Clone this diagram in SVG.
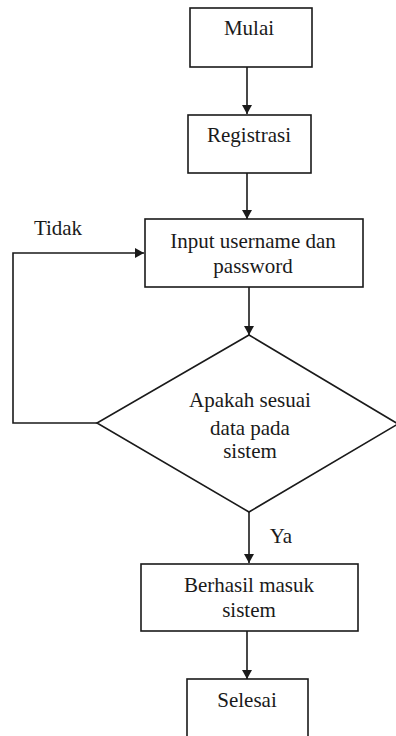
<svg xmlns="http://www.w3.org/2000/svg" width="396" height="736" viewBox="0 0 396 736">
<style>
.box{fill:#fff;stroke:#1a1a1a;stroke-width:1.6}
.ln{fill:none;stroke:#1a1a1a;stroke-width:1.6}
text{font-family:"Liberation Serif","Times New Roman",serif;font-size:21px;fill:#1a1a1a;text-anchor:middle}
</style>
<defs>
<marker id="ah" markerWidth="9" markerHeight="10" refX="9" refY="5" orient="auto" markerUnits="userSpaceOnUse">
<path d="M0,0 L9,5 L0,10 Z" fill="#1a1a1a"/>
</marker>
</defs>
<rect width="396" height="736" fill="#fff"/>
<g id="connectors">
<line class="ln" x1="247" y1="67" x2="247" y2="114" marker-end="url(#ah)"/>
<line class="ln" x1="247" y1="173" x2="247" y2="219" marker-end="url(#ah)"/>
<line class="ln" x1="249" y1="287" x2="249" y2="335" marker-end="url(#ah)"/>
<polyline class="ln" points="97,423 13,423 13,253 144,253" marker-end="url(#ah)"/>
<line class="ln" x1="249" y1="512" x2="249" y2="563" marker-end="url(#ah)"/>
<line class="ln" x1="247" y1="631" x2="247" y2="679" marker-end="url(#ah)"/>
<text x="58" y="235">Tidak</text>
<text x="281" y="543">Ya</text>
</g>
<g id="mulai">
<rect class="box" x="190" y="8" width="122" height="59"/>
<text x="249" y="35">Mulai</text>
</g>
<g id="registrasi">
<rect class="box" x="188" y="115" width="123" height="58"/>
<text x="249" y="142">Registrasi</text>
</g>
<g id="input">
<rect class="box" x="145" y="219" width="218" height="68"/>
<text x="253" y="248">Input username dan</text>
<text x="253" y="273">password</text>
</g>
<g id="decision">
<polygon class="box" points="249,335 398,424 249,512 97,423"/>
<text x="250" y="407">Apakah sesuai</text>
<text x="250" y="435">data pada</text>
<text x="250" y="458">sistem</text>
</g>
<g id="berhasil">
<rect class="box" x="141" y="564" width="217" height="67"/>
<text x="249" y="592">Berhasil masuk</text>
<text x="249" y="617">sistem</text>
</g>
<g id="selesai">
<rect class="box" x="187" y="679" width="121" height="70"/>
<text x="247" y="707">Selesai</text>
</g>
</svg>
